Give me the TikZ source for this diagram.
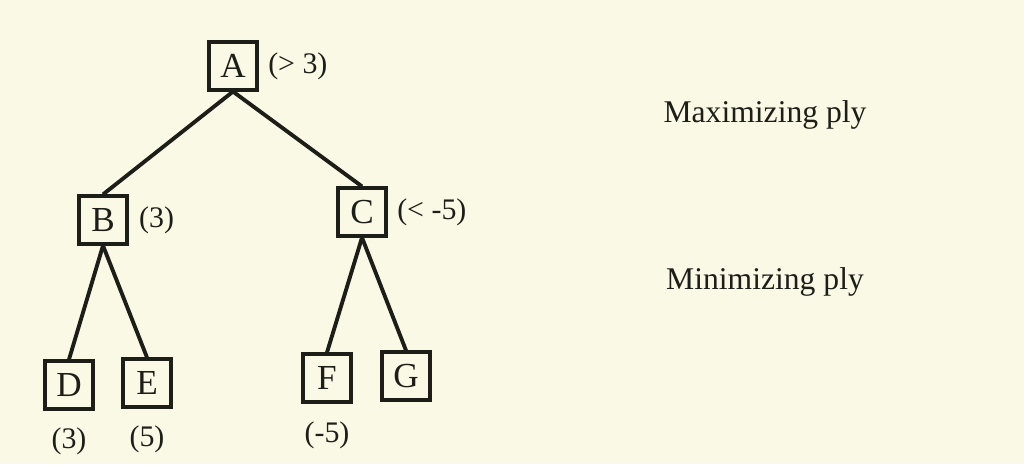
\documentclass[tikz,border=0pt]{standalone}
\usepackage{fontspec}
\setmainfont{Liberation Serif}
\usepackage{tikz}
\usetikzlibrary{positioning}

\definecolor{paper}{RGB}{250,249,229}
\definecolor{ink}{RGB}{30,30,25}

\tikzset{
  plynode/.style={draw=ink, line width=1.8pt, minimum size=0.96cm, inner sep=0pt,
    font=\fontsize{20}{22}\selectfont, text=ink},
  val/.style={font=\fontsize{17}{20}\selectfont, text=ink},
  plylabel/.style={font=\fontsize{18}{22}\selectfont, text=ink},
  edge/.style={draw=ink, line width=2.2pt}
}

\begin{document}
\begin{tikzpicture}[x=0.02cm, y=-0.02cm]
\fill[paper] (0,0) rectangle (1024,464);
\useasboundingbox (0,0) rectangle (1024,464);
% tree nodes
\node[plynode] (A) at (233,66) {A};
\node[plynode] (B) at (103,220) {B};
\node[plynode] (C) at (362,212) {C};
\node[plynode] (D) at (69,385) {D};
\node[plynode] (E) at (147,383) {E};
\node[plynode] (F) at (327,378) {F};
\node[plynode] (G) at (406,376) {G};
% backed-up values
\node[val, right=2pt of A] (vA) {(> 3)};
\node[val, right=2.5pt of B] (vB) {(3)};
\node[val, right=2pt of C] (vC) {(< -5)};
\node[val, below=6pt of D] (vD) {(3)};
\node[val, below=6pt of E] (vE) {(5)};
\node[val, below=7pt of F] (vF) {(-5)};
% edges
\draw[edge] (A.south) -- (B.north);
\draw[edge] (A.south) -- (C.north);
\draw[edge] (B.south) -- (D.north);
\draw[edge] (B.south) -- (E.north);
\draw[edge] (C.south) -- (F.north);
\draw[edge] (C.south) -- (G.north);
% ply names
\node[plylabel] (maxply) at (765,115) {Maximizing ply};
\node[plylabel] (minply) at (765,282) {Minimizing ply};
\end{tikzpicture}
\end{document}
